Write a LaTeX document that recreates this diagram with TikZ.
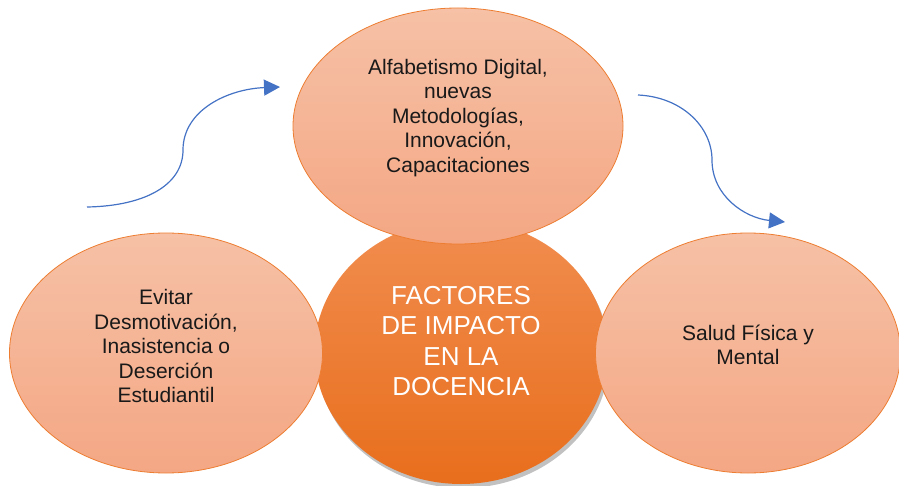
\documentclass[tikz,border=0pt]{standalone}
\usepackage{fontspec}
\setmainfont{Liberation Sans}
\usepackage{xcolor}
\usepackage{tikz}
\usetikzlibrary{shapes,arrows.meta,shadows}

\definecolor{peachtop}{HTML}{F6C1A6}
\definecolor{peachbot}{HTML}{F4A784}
\definecolor{peachline}{HTML}{ED7D31}
\definecolor{coretop}{HTML}{F18D4F}
\definecolor{corebot}{HTML}{E86E1C}
\definecolor{arrowblue}{HTML}{4472C4}

\begin{document}
\begin{tikzpicture}[x=1pt, y=-1pt,
    bubble/.style={ellipse, draw=peachline, line width=0.8pt,
        top color=peachtop, bottom color=peachbot, inner sep=0pt},
    core/.style={ellipse, top color=coretop, bottom color=corebot, inner sep=0pt,
        drop shadow={shadow xshift=2pt, shadow yshift=-4pt, opacity=0.35, fill=black!70}},
    txt/.style={align=center, text=black!90, inner sep=0pt,
        font=\fontsize{21}{24.5}\selectfont},
    flow/.style={arrowblue, line width=1.2pt, -{Triangle[length=16pt, width=16pt]}}]
    \useasboundingbox (0,0) rectangle (899,486);

    % Central circle (behind the others)
    \node[core, minimum width=293pt, minimum height=264pt] (core) at (461,352) {};
    \node[txt, text=white, font=\fontsize{26}{30.5}\selectfont] (core-t)
        at ([yshift=11pt]core.center) {FACTORES\\DE IMPACTO\\EN LA\\DOCENCIA};

    % Side ellipses
    \node[bubble, minimum width=313pt, minimum height=240pt] (evitar) at (166,353) {};
    \node[txt] (evitar-t) at ([yshift=7pt]evitar.center)
        {Evitar\\Desmotivación,\\Inasistencia o\\Deserción\\Estudiantil};

    \node[bubble, minimum width=305pt, minimum height=240pt] (salud) at (748,353) {};
    \node[txt] (salud-t) at ([yshift=8pt]salud.center) {Salud Física y\\Mental};

    % Top ellipse
    \node[bubble, minimum width=330pt, minimum height=236pt] (alfa) at (458,126) {};
    \node[txt] (alfa-t) at ([yshift=8pt]alfa.center)
        {Alfabetismo Digital,\\nuevas\\Metodologías,\\Innovación,\\Capacitaciones};

    % Curved arrows
    \coordinate (in-a) at (87,207);
    \coordinate (in-b) at (280,87);
    \coordinate (out-a) at (638,95);
    \coordinate (out-b) at (785,222);
    \draw[flow] (in-a) .. controls (145,206) and (183,185) .. (183,150)
        .. controls (183,110) and (228,89) .. (in-b);
    \draw[flow] (out-a) .. controls (682,97) and (712,127) .. (712,160)
        .. controls (712,196) and (745,218) .. (out-b);
\end{tikzpicture}
\end{document}
